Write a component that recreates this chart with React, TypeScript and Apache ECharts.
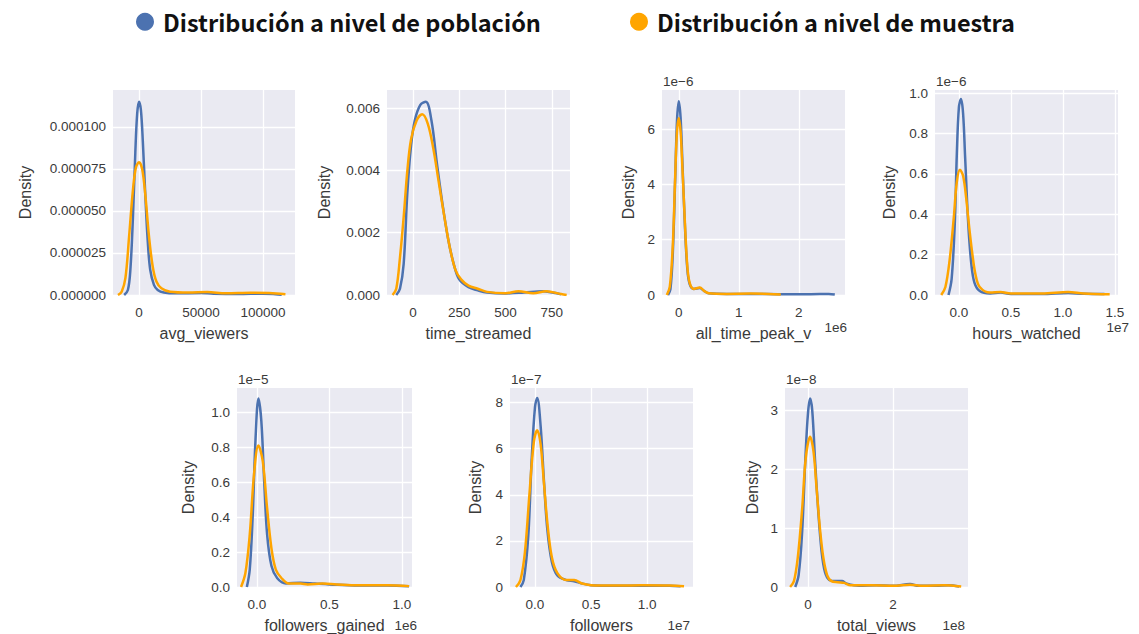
import React, { useEffect, useRef } from 'react';
import * as echarts from 'echarts';

const POP = 'Distribución a nivel de población';
const SAMPLE = 'Distribución a nivel de muestra';

// ---- avg_viewers (x raw, y raw density)
const avgViewersPop = [[-12000, 0], [-9000, 3e-6], [-7000, 15e-6], [-5000, 45e-6], [-3000, 85e-6], [-1500, 108e-6], [0, 115e-6], [1500, 110e-6], [3000, 92e-6], [5000, 60e-6], [7000, 32e-6], [9000, 15e-6], [12000, 6e-6], [15000, 3e-6], [20000, 1.5e-6], [30000, 1e-6], [50000, 1.2e-6], [60000, 0.8e-6], [80000, 0.6e-6], [100000, 0.8e-6], [110000, 0.5e-6], [115000, 0.2e-6]];
const avgViewersSample = [[-17000, 0], [-14000, 2e-6], [-11000, 10e-6], [-8000, 35e-6], [-5000, 62e-6], [-2500, 76e-6], [0, 79e-6], [2500, 75e-6], [5000, 60e-6], [8000, 35e-6], [11000, 17e-6], [14000, 8e-6], [18000, 4e-6], [25000, 2e-6], [40000, 1.5e-6], [55000, 1.8e-6], [70000, 1e-6], [90000, 1.3e-6], [105000, 1.2e-6], [118000, 0.5e-6]];
const avgViewersXTicks = [0, 50000, 100000];
const avgViewersYTicks = [0, 0.000025, 0.00005, 0.000075, 0.0001];

// ---- time_streamed
const timeStreamedPop = [[-90, 0], [-70, 0.0002], [-50, 0.001], [-30, 0.0033], [-10, 0.0048], [10, 0.0056], [40, 0.0061], [70, 0.0062], [100, 0.0056], [130, 0.0042], [160, 0.0029], [190, 0.0018], [220, 0.001], [250, 0.0005], [300, 0.00025], [350, 0.00015], [400, 0.00008], [500, 0.00005], [600, 0.00008], [700, 0.00012], [760, 0.00007], [800, 0.00002]];
const timeStreamedSample = [[-110, 0], [-90, 0.0002], [-70, 0.0012], [-50, 0.0025], [-30, 0.004], [-10, 0.005], [20, 0.0056], [50, 0.0058], [80, 0.0055], [110, 0.0047], [140, 0.0036], [170, 0.0025], [200, 0.0015], [230, 0.0008], [260, 0.0005], [300, 0.0003], [350, 0.0002], [400, 0.0001], [500, 0.00006], [570, 0.00012], [650, 0.00006], [720, 0.00012], [800, 0.00003], [830, 0]];
const timeStreamedXTicks = [0, 250, 500, 750];
const timeStreamedYTicks = [0, 0.002, 0.004, 0.006];

// ---- all_time_peak_viewers (x in 1e6, y in 1e-6)
const peakViewersPop = [[-0.18, 0], [-0.14, 0.2], [-0.1, 1.5], [-0.06, 4.2], [-0.03, 6.3], [0, 7.0], [0.03, 6.4], [0.06, 4.8], [0.1, 2.6], [0.14, 1.0], [0.18, 0.4], [0.25, 0.22], [0.35, 0.25], [0.42, 0.15], [0.5, 0.06], [0.8, 0.04], [1.2, 0.04], [1.7, 0.03], [2.2, 0.03], [2.5, 0.04], [2.6, 0.02]];
const peakViewersSample = [[-0.2, 0], [-0.15, 0.3], [-0.1, 1.8], [-0.06, 4.3], [-0.03, 5.9], [0, 6.4], [0.03, 5.9], [0.06, 4.6], [0.1, 2.7], [0.14, 1.1], [0.18, 0.45], [0.25, 0.22], [0.35, 0.27], [0.42, 0.15], [0.5, 0.06], [0.8, 0.04], [1.2, 0.05], [1.5, 0.04], [1.7, 0.02]];
const peakViewersXTicks = [0, 1, 2];
const peakViewersYTicks = [0, 2, 4, 6];

// ---- hours_watched (x in 1e7, y in 1e-6)
const hoursWatchedPop = [[-0.1, 0], [-0.07, 0.08], [-0.04, 0.35], [-0.02, 0.7], [0, 0.93], [0.02, 0.97], [0.04, 0.9], [0.06, 0.68], [0.09, 0.35], [0.12, 0.15], [0.15, 0.06], [0.2, 0.02], [0.3, 0.008], [0.4, 0.012], [0.5, 0.005], [0.8, 0.005], [1.05, 0.01], [1.2, 0.006], [1.4, 0.005]];
const hoursWatchedSample = [[-0.17, 0], [-0.13, 0.04], [-0.09, 0.17], [-0.05, 0.38], [-0.02, 0.56], [0.01, 0.62], [0.04, 0.59], [0.07, 0.48], [0.1, 0.33], [0.13, 0.2], [0.16, 0.1], [0.2, 0.04], [0.3, 0.012], [0.4, 0.015], [0.5, 0.008], [0.8, 0.008], [1.05, 0.015], [1.2, 0.008], [1.45, 0.004]];
const hoursWatchedXTicks = [0, 0.5, 1.0, 1.5];
const hoursWatchedYTicks = [0, 0.2, 0.4, 0.6, 0.8, 1.0];

// ---- followers_gained (x in 1e6, y in 1e-5)
const followersGainedPop = [[-0.07, 0], [-0.05, 0.1], [-0.03, 0.4], [-0.01, 0.85], [0.01, 1.08], [0.03, 0.95], [0.05, 0.6], [0.07, 0.3], [0.1, 0.12], [0.14, 0.05], [0.2, 0.02], [0.3, 0.025], [0.4, 0.02], [0.5, 0.015], [0.7, 0.008], [0.9, 0.008], [1.05, 0.004]];
const followersGainedSample = [[-0.11, 0], [-0.08, 0.08], [-0.05, 0.3], [-0.02, 0.65], [0.01, 0.81], [0.04, 0.72], [0.07, 0.45], [0.1, 0.22], [0.13, 0.1], [0.17, 0.05], [0.22, 0.02], [0.3, 0.02], [0.35, 0.015], [0.45, 0.02], [0.55, 0.015], [0.7, 0.01], [0.9, 0.01], [1.05, 0.005]];
const followersGainedXTicks = [0, 0.5, 1.0];
const followersGainedYTicks = [0, 0.2, 0.4, 0.6, 0.8, 1.0];

// ---- followers (x in 1e7, y in 1e-7)
const followersPop = [[-0.13, 0], [-0.1, 0.3], [-0.06, 2.2], [-0.03, 5.5], [0, 7.8], [0.02, 8.2], [0.05, 7.0], [0.08, 4.6], [0.11, 2.5], [0.15, 1.1], [0.2, 0.5], [0.28, 0.3], [0.35, 0.25], [0.42, 0.15], [0.5, 0.08], [0.7, 0.05], [0.95, 0.06], [1.2, 0.05], [1.3, 0.03]];
const followersSample = [[-0.17, 0], [-0.13, 0.3], [-0.09, 1.5], [-0.05, 4.0], [-0.01, 6.3], [0.02, 6.8], [0.05, 6.2], [0.08, 4.5], [0.11, 2.8], [0.15, 1.3], [0.2, 0.6], [0.28, 0.3], [0.35, 0.3], [0.42, 0.15], [0.5, 0.08], [0.7, 0.06], [0.95, 0.08], [1.2, 0.07], [1.33, 0.03]];
const followersXTicks = [0, 0.5, 1.0];
const followersYTicks = [0, 2, 4, 6, 8];

// ---- total_views (x in 1e8, y in 1e-8)
const totalViewsPop = [[-0.3, 0], [-0.22, 0.2], [-0.14, 0.9], [-0.06, 2.2], [0, 2.95], [0.05, 3.2], [0.1, 3.0], [0.17, 2.1], [0.24, 1.3], [0.32, 0.6], [0.4, 0.25], [0.5, 0.12], [0.65, 0.1], [0.8, 0.1], [0.9, 0.06], [1.2, 0.02], [1.6, 0.03], [2.0, 0.02], [2.4, 0.05], [2.6, 0.02], [3.0, 0.02], [3.3, 0.03], [3.55, 0.01]];
const totalViewsSample = [[-0.42, 0], [-0.33, 0.1], [-0.24, 0.5], [-0.14, 1.3], [-0.05, 2.2], [0.05, 2.55], [0.13, 2.3], [0.2, 1.7], [0.28, 1.0], [0.36, 0.5], [0.45, 0.2], [0.55, 0.1], [0.7, 0.08], [0.85, 0.07], [1.0, 0.03], [1.5, 0.03], [2.0, 0.02], [2.4, 0.04], [2.7, 0.02], [3.2, 0.03], [3.6, 0.01]];
const totalViewsXTicks = [0, 2];
const totalViewsYTicks = [0, 1, 2, 3];

const BLUE = '#4C72B0';
const ORANGE = '#FFA500';
const TXT = '#3a3a3a';
const FONT = '"Liberation Sans", Arial, sans-serif';

const str = (v: number) => String(v);
const f1 = (v: number) => v.toFixed(1);
const f3 = (v: number) => v.toFixed(3);
const f6 = (v: number) => v.toFixed(6);

type Panel = {
  name: string; pop: number[][]; sample: number[][]; xTicks: number[]; yTicks: number[];
  xMin: number; xMax: number; yMax: number; left: number; top: number; width: number;
  yNameGap: number; xFmt: (v: number) => string; yFmt: (v: number) => string;
  offTop?: string; offRight?: string; offRightX?: number;
};

const panels: Panel[] = [
  { name: 'avg_viewers', pop: avgViewersPop, sample: avgViewersSample, xTicks: avgViewersXTicks, yTicks: avgViewersYTicks, xMin: -21000, xMax: 125700, yMax: 0.000122, left: 113, top: 90, width: 182, yNameGap: 80, xFmt: str, yFmt: f6 },
  { name: 'time_streamed', pop: timeStreamedPop, sample: timeStreamedSample, xTicks: timeStreamedXTicks, yTicks: timeStreamedYTicks, xMin: -140, xMax: 848, yMax: 0.00658, left: 387, top: 90, width: 183, yNameGap: 55, xFmt: str, yFmt: f3 },
  { name: 'all_time_peak_v', pop: peakViewersPop, sample: peakViewersSample, xTicks: peakViewersXTicks, yTicks: peakViewersYTicks, xMin: -0.28, xMax: 2.77, yMax: 7.41, left: 662, top: 90, width: 183, yNameGap: 26, xFmt: str, yFmt: str, offTop: '1e\u22126', offRight: '1e6', offRightX: 847 },
  { name: 'hours_watched', pop: hoursWatchedPop, sample: hoursWatchedSample, xTicks: hoursWatchedXTicks, yTicks: hoursWatchedYTicks, xMin: -0.23, xMax: 1.53, yMax: 1.015, left: 935, top: 90, width: 183, yNameGap: 38, xFmt: f1, yFmt: f1, offTop: '1e\u22126', offRight: '1e7', offRightX: 1129 },
  { name: 'followers_gained', pop: followersGainedPop, sample: followersGainedSample, xTicks: followersGainedXTicks, yTicks: followersGainedYTicks, xMin: -0.138, xMax: 1.07, yMax: 1.14, left: 237, top: 388, width: 175, yNameGap: 41, xFmt: f1, yFmt: f1, offTop: '1e\u22125', offRight: '1e6', offRightX: 417 },
  { name: 'followers', pop: followersPop, sample: followersSample, xTicks: followersXTicks, yTicks: followersYTicks, xMin: -0.223, xMax: 1.41, yMax: 8.63, left: 510, top: 388, width: 183, yNameGap: 27, xFmt: f1, yFmt: str, offTop: '1e\u22127', offRight: '1e7', offRightX: 690 },
  { name: 'total_views', pop: totalViewsPop, sample: totalViewsSample, xTicks: totalViewsXTicks, yTicks: totalViewsYTicks, xMin: -0.54, xMax: 3.76, yMax: 3.38, left: 785, top: 388, width: 183, yNameGap: 25, xFmt: str, yFmt: str, offTop: '1e\u22128', offRight: '1e8', offRightX: 965 },
];

const PLOT_H = 205;

function buildOption() {
  const grid: any[] = [];
  const xAxis: any[] = [];
  const yAxis: any[] = [];
  const series: any[] = [];
  const graphic: any[] = [];
  panels.forEach((p, i) => {
    grid.push({ left: p.left, top: p.top, width: p.width, height: PLOT_H, show: true, backgroundColor: '#EAEAF2', borderWidth: 0 });
    xAxis.push({
      type: 'value', gridIndex: i, min: p.xMin, max: p.xMax,
      name: p.name, nameLocation: 'middle', nameGap: 30,
      nameTextStyle: { fontSize: 16, color: TXT, fontFamily: FONT },
      axisLine: { show: false },
      axisTick: { show: false, customValues: p.xTicks },
      axisLabel: { customValues: p.xTicks, formatter: p.xFmt, fontSize: 13.5, color: TXT, fontFamily: FONT, margin: 10 },
      splitLine: { show: true, lineStyle: { color: '#FFFFFF', width: 1.3 } },
    });
    yAxis.push({
      type: 'value', gridIndex: i, min: 0, max: p.yMax,
      name: 'Density', nameLocation: 'middle', nameGap: p.yNameGap,
      nameTextStyle: { fontSize: 16, color: TXT, fontFamily: FONT },
      axisLine: { show: false },
      axisTick: { show: false, customValues: p.yTicks },
      axisLabel: { customValues: p.yTicks, formatter: p.yFmt, fontSize: 13.5, color: TXT, fontFamily: FONT, margin: 7 },
      splitLine: { show: true, lineStyle: { color: '#FFFFFF', width: 1.3 } },
    });
    series.push({
      type: 'line', name: POP, xAxisIndex: i, yAxisIndex: i, data: p.pop, smooth: 0.35, symbol: 'none',
      clip: true, itemStyle: { color: BLUE }, lineStyle: { color: BLUE, width: 2.5 },
    });
    series.push({
      type: 'line', name: SAMPLE, xAxisIndex: i, yAxisIndex: i, data: p.sample, smooth: 0.35, symbol: 'none',
      clip: true, itemStyle: { color: ORANGE }, lineStyle: { color: ORANGE, width: 2.5 },
    });
    if (p.offTop) {
      graphic.push({ type: 'text', x: p.left + 1, y: p.top - 9, style: { text: p.offTop, fill: TXT, fontSize: 13.5, fontFamily: FONT, align: 'left', verticalAlign: 'middle' } });
    }
    if (p.offRight) {
      graphic.push({ type: 'text', x: p.offRightX, y: p.top + PLOT_H + 32, style: { text: p.offRight, fill: TXT, fontSize: 13.5, fontFamily: FONT, align: 'right', verticalAlign: 'middle' } });
    }
  });
  const legendText = { fontSize: 23.5, fontWeight: 'bold', color: '#111111', fontFamily: '"Noto Sans CJK JP", "Noto Sans", sans-serif', padding: [0, 0, 0, 4] };
  return {
    animation: false,
    backgroundColor: '#FFFFFF',
    legend: [
      { data: [POP], left: 131, top: 5, icon: 'circle', itemWidth: 18, itemHeight: 18, textStyle: legendText, selectedMode: false },
      { data: [SAMPLE], left: 625, top: 5, icon: 'circle', itemWidth: 18, itemHeight: 18, textStyle: legendText, selectedMode: false },
    ],
    grid, xAxis, yAxis, series, graphic,
  };
}

export default function App() {
  const ref = useRef<HTMLDivElement>(null);
  useEffect(() => {
    if (!ref.current) return;
    const chart = echarts.init(ref.current, undefined, { renderer: 'svg' });
    chart.setOption(buildOption() as any);
    return () => chart.dispose();
  }, []);
  return <div ref={ref} style={{ position: 'fixed', left: 0, top: 0, width: 1139, height: 634 }} />;
}
